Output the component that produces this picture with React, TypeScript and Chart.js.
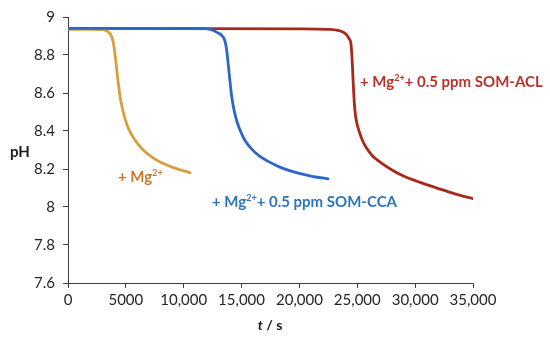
import React, { useEffect, useRef } from "react";
import { Chart, registerables } from "chart.js";

Chart.register(...registerables);

const mgT = [0, 2000, 3000, 3300, 3550, 3750, 3900, 4050, 4200, 4350, 4500, 4700, 4950, 5250, 5600, 6000, 6500, 7200, 8000, 9000, 10543];
const mgPH = [8.935, 8.935, 8.933, 8.928, 8.918, 8.9, 8.87, 8.81, 8.73, 8.65, 8.58, 8.52, 8.46, 8.41, 8.37, 8.335, 8.3, 8.265, 8.235, 8.21, 8.18];

const ccaT = [0, 11000, 12300, 12700, 13000, 13250, 13450, 13600, 13700, 13800, 13900, 14000, 14150, 14350, 14600, 14900, 15300, 15800, 16500, 17300, 18300, 19500, 21000, 22470];
const ccaPH = [8.94, 8.94, 8.935, 8.925, 8.915, 8.905, 8.89, 8.865, 8.83, 8.78, 8.72, 8.66, 8.58, 8.51, 8.45, 8.4, 8.35, 8.31, 8.27, 8.24, 8.21, 8.185, 8.163, 8.148];

const aclT = [0, 20000, 22500, 23300, 23800, 24100, 24300, 24450, 24550, 24650, 24750, 24850, 24950, 25100, 25450, 25800, 26300, 27000, 28000, 29000, 30500, 32000, 33500, 35000];
const aclPH = [8.94, 8.938, 8.935, 8.93, 8.92, 8.905, 8.885, 8.86, 8.78, 8.65, 8.54, 8.48, 8.445, 8.41, 8.35, 8.31, 8.27, 8.235, 8.195, 8.163, 8.128, 8.097, 8.068, 8.044];

const xTickValues = [0, 5000, 10000, 15000, 20000, 25000, 30000, 35000];
const xTickLabels = ["0", "5000", "10,000", "15,000", "20,000", "25,000", "30,000", "35,000"];
const yTickValues = [7.6, 7.8, 8, 8.2, 8.4, 8.6, 8.8, 9];
const yTickLabels = ["7.6", "7.8", "8", "8.2", "8.4", "8.6", "8.8", "9"];

const seriesLabels = ["+ Mg2+", "+ Mg2+ + 0.5 ppm SOM-CCA", "+ Mg2+ + 0.5 ppm SOM-ACL"];

const FONT = "Lato, 'Open Sans', sans-serif";
const ORANGE = "#D6A03E";
const BLUE = "#2C66C8";
const RED = "#A8281A";

function pts(t: number[], p: number[]) {
  return t.map((v, i) => ({ x: v, y: p[i] }));
}

function drawSupLabel(ctx: CanvasRenderingContext2D, x: number, y: number, rest: string, color: string, size: number) {
  ctx.save();
  ctx.fillStyle = color;
  ctx.textBaseline = "alphabetic";
  ctx.textAlign = "left";
  ctx.font = `bold ${size}px ${FONT}`;
  const a = "+ Mg";
  ctx.fillText(a, x, y);
  let cx = x + ctx.measureText(a).width;
  ctx.font = `bold ${Math.round(size * 0.62)}px ${FONT}`;
  ctx.fillText("2+", cx, y - size * 0.4);
  cx += ctx.measureText("2+").width;
  if (rest) {
    ctx.font = `bold ${size}px ${FONT}`;
    ctx.fillText(rest, cx, y);
  }
  ctx.restore();
}

const annotations = {
  id: "annotations",
  afterDraw(chart: any) {
    const ctx = chart.ctx as CanvasRenderingContext2D;
    drawSupLabel(ctx, 118, 182, "", "#C9782A", 15);
    drawSupLabel(ctx, 212, 207, "+ 0.5 ppm SOM-CCA", "#2E74B8", 15);
    drawSupLabel(ctx, 360, 87, "+ 0.5 ppm SOM-ACL", "#B8322A", 15);
    ctx.save();
    ctx.fillStyle = "#1a1a1a";
    ctx.textBaseline = "middle";
    ctx.font = `bold 15px ${FONT}`;
    ctx.textAlign = "left";
    ctx.fillText("pH", 10, 152);
    ctx.font = `italic bold 14px ${FONT}`;
    const tW = ctx.measureText("t").width;
    ctx.font = `bold 14px ${FONT}`;
    const sW = ctx.measureText(" / s").width;
    const start = 270 - (tW + sW) / 2;
    ctx.font = `italic bold 14px ${FONT}`;
    ctx.fillText("t", start, 325);
    ctx.font = `bold 14px ${FONT}`;
    ctx.fillText(" / s", start + tW, 325);
    ctx.restore();
  },
};

export default function App() {
  const ref = useRef<HTMLCanvasElement | null>(null);
  useEffect(() => {
    if (!ref.current) return;
    const common = { borderWidth: 2.8, pointRadius: 0, cubicInterpolationMode: "monotone", fill: false, borderCapStyle: "round", borderJoinStyle: "round" };
    const chart = new Chart(ref.current, {
      type: "line",
      data: {
        datasets: [
          { label: seriesLabels[2], data: pts(aclT, aclPH), borderColor: RED, order: 3, ...common },
          { label: seriesLabels[0], data: pts(mgT, mgPH), borderColor: ORANGE, order: 2, ...common },
          { label: seriesLabels[1], data: pts(ccaT, ccaPH), borderColor: BLUE, order: 1, ...common },
        ],
      },
      options: {
        animation: false,
        responsive: false,
        maintainAspectRatio: false,
        events: [],
        layout: { padding: { left: 0, right: 77, top: 15, bottom: 0 } },
        plugins: { legend: { display: false }, tooltip: { enabled: false }, title: { display: false } },
        scales: {
          x: {
            type: "linear",
            min: 0,
            max: 35000,
            afterFit(scale: any) { scale.height = 57; },
            afterBuildTicks(scale: any) { scale.ticks = xTickValues.map((v) => ({ value: v })); },
            ticks: {
              color: "#262626",
              font: { family: FONT, size: 15 },
              padding: 3,
              maxRotation: 0,
              autoSkip: false,
              callback: (v: any) => { const i = xTickValues.indexOf(Number(v)); return i >= 0 ? xTickLabels[i] : ""; },
            },
            grid: { display: true, drawOnChartArea: false, drawTicks: true, tickLength: 5, color: "#404040", lineWidth: 1 },
            border: { display: true, color: "#404040", width: 1 },
          },
          y: {
            type: "linear",
            min: 7.6,
            max: 9,
            afterFit(scale: any) { scale.width = 68; },
            afterBuildTicks(scale: any) { scale.ticks = yTickValues.map((v) => ({ value: v })); },
            ticks: {
              color: "#262626",
              font: { family: FONT, size: 15 },
              padding: 8,
              autoSkip: false,
              callback: (v: any) => { const i = yTickValues.findIndex((w) => Math.abs(w - Number(v)) < 1e-6); return i >= 0 ? yTickLabels[i] : ""; },
            },
            grid: { display: true, drawOnChartArea: false, drawTicks: true, tickLength: 5, color: "#404040", lineWidth: 1 },
            border: { display: true, color: "#404040", width: 1 },
          },
        },
      } as any,
      plugins: [annotations],
    });
    return () => chart.destroy();
  }, []);
  return (
    <div style={{ position: "fixed", left: 0, top: 0, width: 550, height: 340, background: "#fff" }}>
      <canvas ref={ref} width={550} height={340} style={{ width: 550, height: 340, display: "block" }} />
    </div>
  );
}
